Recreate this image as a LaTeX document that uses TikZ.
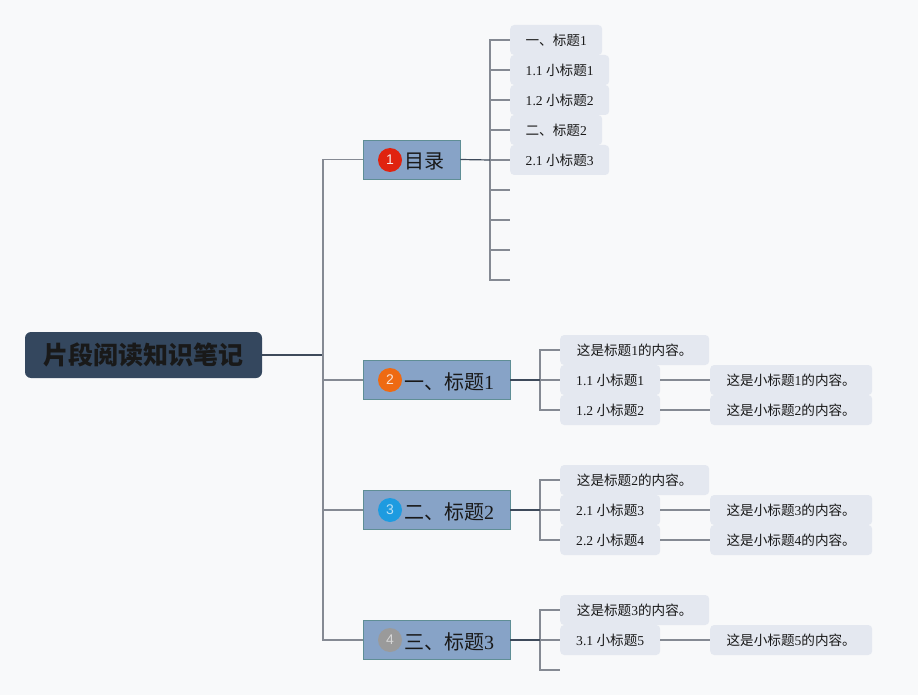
\documentclass[tikz,border=0pt]{standalone}
\usepackage{fontspec}
\setmainfont{Liberation Serif}
\newfontfamily\cjk{Noto Sans CJK SC}
\newfontfamily\numfont{Liberation Sans}
\newcommand{\zh}[1]{{\cjk #1}}
\definecolor{bgc}{HTML}{F8F9FA}
\definecolor{rootc}{HTML}{34475E}
\definecolor{mainc}{HTML}{87A3C7}
\definecolor{mainb}{HTML}{5F8E95}
\definecolor{kidc}{HTML}{E4E8F0}
\definecolor{darkln}{HTML}{3E4A5A}
\definecolor{grayln}{HTML}{858A93}
\definecolor{cred}{HTML}{E0230F}
\definecolor{corange}{HTML}{EE6A12}
\definecolor{cblue}{HTML}{1E9BE0}
\definecolor{cgray}{HTML}{9A9A9A}
\tikzset{
  rootbox/.style={rectangle, rounded corners=6pt, fill=rootc, minimum width=237pt, minimum height=46pt, inner sep=0pt, font=\cjk\bfseries\fontsize{25}{28}\selectfont, text=black!90},
  mainbox/.style={rectangle, fill=mainc, draw=mainb, line width=0.8pt, minimum height=39pt, inner sep=0pt},
  maintext/.style={anchor=west, inner sep=0pt, font=\fontsize{20}{23}\selectfont, text=black!90},
  numc/.style={circle, minimum size=24pt, inner sep=0pt, font=\numfont\fontsize{14}{16}\selectfont},
  kidbox/.style={rectangle, rounded corners=4pt, fill=kidc, minimum height=30pt, inner sep=0pt, anchor=west, font=\fontsize{13.6}{15}\selectfont, text=black!90},
  darkconn/.style={draw=darkln, line width=1.2pt},
  grayconn/.style={draw=grayln, line width=1.2pt},
}
\begin{document}
\begin{tikzpicture}[x=1pt,y=-1pt]
\fill[bgc] (0,0) rectangle (918,695);
\useasboundingbox (0,0) rectangle (918,695);

% root
\node[rootbox] (root) at (143.5,355) {片段阅读知识笔记};
\coordinate (T) at (323,355);

% main branches
\node[mainbox, minimum width=97pt] (m1) at (411.5,159.5) {};
\node[mainbox, minimum width=147pt] (m2) at (436.5,380) {};
\node[mainbox, minimum width=147pt] (m3) at (436.5,510) {};
\node[mainbox, minimum width=147pt] (m4) at (436.5,640) {};

\node[numc, fill=cred, text=white!90!cred] (c1) at (390,160) {1};
\node[numc, fill=corange, text=white!80!corange] (c2) at (390,380) {2};
\node[numc, fill=cblue, text=white!70!cblue] (c3) at (390,510) {3};
\node[numc, fill=cgray, text=white!60!cgray] (c4) at (390,640) {4};

\node[maintext] (t1) at (404,161) {\zh{目录}};
\node[maintext] (t2) at (404,382) {\zh{一、标题}1};
\node[maintext] (t3) at (404,512) {\zh{二、标题}2};
\node[maintext] (t4) at (404,642) {\zh{三、标题}3};

% trunk
\draw[darkconn] (root.east) -- (T);
\draw[grayconn] (T) |- (m1.west);
\draw[grayconn] (T) |- (m2.west);
\draw[grayconn] (T) |- (m3.west);
\draw[grayconn] (T) |- (m4.west);

% branch 1 children
\coordinate (j1) at (490,160);
\node[kidbox, minimum width=92pt] (k11) at (510,40) {\zh{一、标题}1};
\node[kidbox, minimum width=99pt] (k12) at (510,70) {1.1 \zh{小标题}1};
\node[kidbox, minimum width=99pt] (k13) at (510,100) {1.2 \zh{小标题}2};
\node[kidbox, minimum width=92pt] (k14) at (510,130) {\zh{二、标题}2};
\node[kidbox, minimum width=99pt] (k15) at (510,160) {2.1 \zh{小标题}3};
\coordinate (e16) at (510,190);
\coordinate (e17) at (510,220);
\coordinate (e18) at (510,250);
\coordinate (e19) at (510,280);
\foreach \n in {k11,k12,k13,k14,k15} \draw[grayconn] (j1) |- (\n.west);
\foreach \n in {e16,e17,e18,e19} \draw[grayconn] (j1) |- (\n);
\draw[darkconn] (m1.east) -- (j1);

% branch 2 children
\coordinate (j2) at (540,380);
\node[kidbox, minimum width=149pt] (k21) at (560,350) {\zh{这是标题}1\zh{的内容。}};
\node[kidbox, minimum width=100pt] (k22) at (560,380) {1.1 \zh{小标题}1};
\node[kidbox, minimum width=100pt] (k23) at (560,410) {1.2 \zh{小标题}2};
\node[kidbox, minimum width=162pt] (g22) at (710,380) {\zh{这是小标题}1\zh{的内容。}};
\node[kidbox, minimum width=162pt] (g23) at (710,410) {\zh{这是小标题}2\zh{的内容。}};
\foreach \n in {k21,k22,k23} \draw[grayconn] (j2) |- (\n.west);
\draw[darkconn] (m2.east) -- (j2);
\draw[grayconn] (k22.east) -- (g22.west);
\draw[grayconn] (k23.east) -- (g23.west);

% branch 3 children
\coordinate (j3) at (540,510);
\node[kidbox, minimum width=149pt] (k31) at (560,480) {\zh{这是标题}2\zh{的内容。}};
\node[kidbox, minimum width=100pt] (k32) at (560,510) {2.1 \zh{小标题}3};
\node[kidbox, minimum width=100pt] (k33) at (560,540) {2.2 \zh{小标题}4};
\node[kidbox, minimum width=162pt] (g32) at (710,510) {\zh{这是小标题}3\zh{的内容。}};
\node[kidbox, minimum width=162pt] (g33) at (710,540) {\zh{这是小标题}4\zh{的内容。}};
\foreach \n in {k31,k32,k33} \draw[grayconn] (j3) |- (\n.west);
\draw[darkconn] (m3.east) -- (j3);
\draw[grayconn] (k32.east) -- (g32.west);
\draw[grayconn] (k33.east) -- (g33.west);

% branch 4 children
\coordinate (j4) at (540,640);
\node[kidbox, minimum width=149pt] (k41) at (560,610) {\zh{这是标题}3\zh{的内容。}};
\node[kidbox, minimum width=100pt] (k42) at (560,640) {3.1 \zh{小标题}5};
\coordinate (e43) at (560,670);
\node[kidbox, minimum width=162pt] (g42) at (710,640) {\zh{这是小标题}5\zh{的内容。}};
\foreach \n in {k41,k42} \draw[grayconn] (j4) |- (\n.west);
\draw[grayconn] (j4) |- (e43);
\draw[darkconn] (m4.east) -- (j4);
\draw[grayconn] (k42.east) -- (g42.west);
\end{tikzpicture}
\end{document}
